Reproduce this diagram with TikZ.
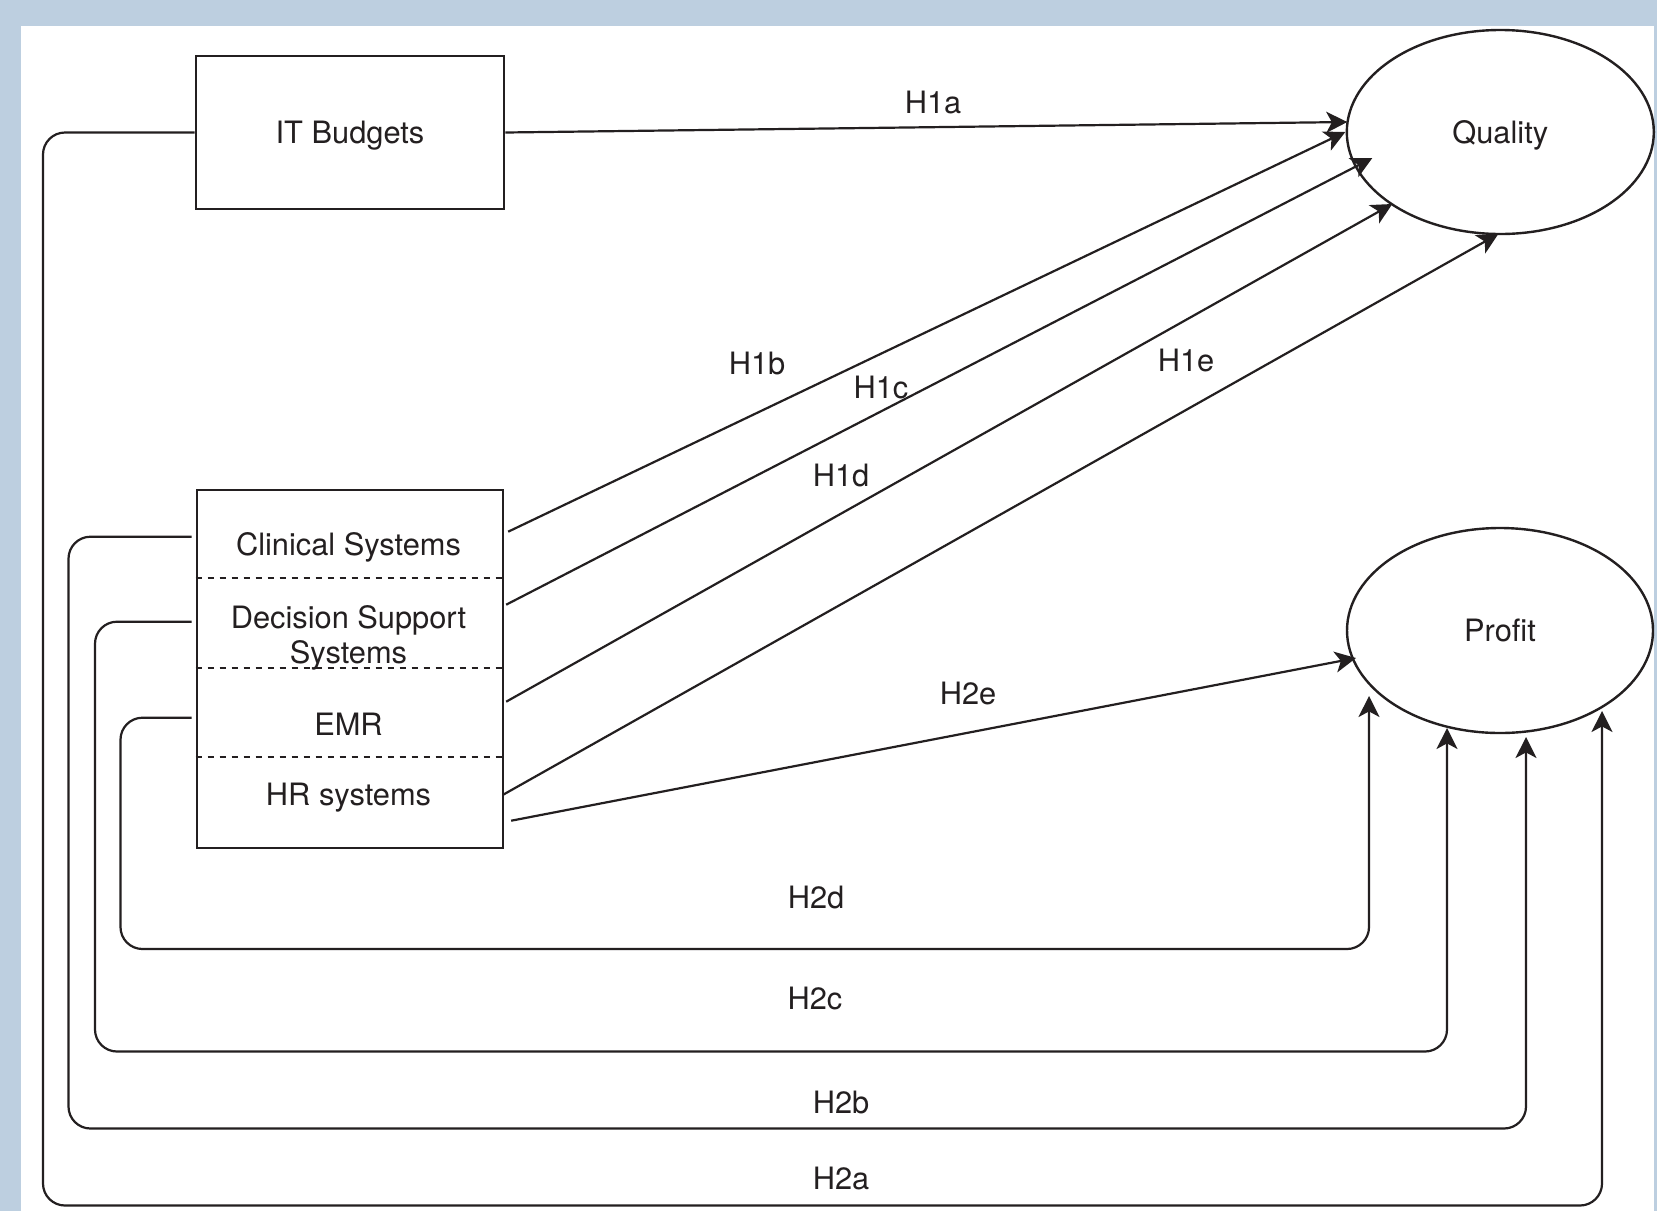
\documentclass[tikz,border=0pt]{standalone}
\usepackage{fontspec}
\setmainfont{TeX Gyre Heros}
\usetikzlibrary{arrows.meta,calc,shapes.geometric}
\definecolor{ink}{RGB}{35,31,32}
\definecolor{framecol}{RGB}{189,207,224}
\begin{document}
\begin{tikzpicture}[x=0.5pt,y=-0.5pt,
  wire/.style={draw=ink,line width=1.1pt},
  conn/.style={wire,-{Stealth[length=10.5pt,width=10.5pt,inset=2.8pt]}},
  wrapconn/.style={conn,rounded corners=11pt},
  lbl/.style={font=\fontsize{15.4}{17.5}\selectfont,text=ink,text height=11.05pt,text depth=0pt,inner sep=0pt},
  boxstyle/.style={draw=ink,line width=1.3pt,inner sep=0pt},
  oval/.style={ellipse,draw=ink,line width=1.2pt,inner sep=0pt},
  dashrow/.style={draw=ink,line width=1pt,dash pattern=on 3.4pt off 2.6pt}]
\fill[framecol] (0,0) rectangle (1657,1211);
\fill[white] (21,26) rectangle (1654,1211);
\useasboundingbox (0,0) rectangle (1657,1211);

% nodes
\node[boxstyle,lbl,minimum width=154pt,minimum height=76.5pt] (it) at (350,132.5) {IT Budgets};
\node[boxstyle,minimum width=153pt,minimum height=179pt] (sys) at (349.85,669) {};
\node[oval,lbl,minimum width=153.5pt,minimum height=102pt] (q) at (1500.3,132) {Quality};
\node[oval,lbl,minimum width=153pt,minimum height=102.5pt] (p) at (1500,630.5) {Profit};

\draw[dashrow] ($(sys.north west)+(0,89)$) -- ($(sys.north east)+(0,89)$);
\draw[dashrow] ($(sys.north west)+(0,179)$) -- ($(sys.north east)+(0,179)$);
\draw[dashrow] ($(sys.north west)+(0,268)$) -- ($(sys.north east)+(0,268)$);

\node[lbl] (cs) at (348.5,544) {Clinical Systems};
\node[font=\fontsize{15.4}{17.5}\selectfont,text=ink,inner sep=0pt,align=center] (dss) at (348.5,637.5) {Decision Support\\Systems};
\node[lbl] (emr) at (348.5,724) {EMR};
\node[lbl] (hr) at (348.5,794.5) {HR systems};

% H1 arrows
\draw[conn] (it.east) -- ($(q.center)+(-153,-10)$);
\draw[conn] ($(sys.north east)+(4,43)$) -- ($(q.center)+(-155,0)$);
\draw[conn] ($(sys.north east)+(2,116)$) -- ($(q.center)+(-128,26)$);
\draw[conn] ($(sys.north east)+(2,213)$) -- ($(q.center)+(-108,72)$);
\draw[conn] ($(sys.north east)+(-1,306)$) -- ($(q.center)+(-2,102)$);
\draw[conn] ($(sys.north east)+(7,332)$) -- ($(p.center)+(-144,27.5)$);

% H2 wrap-around arrows
\draw[wrapconn] (it.west) -| (43,1205.5) -| ($(p.center)+(102,80.5)$);
\draw[wrapconn] ($(sys.north west)+(-4,48)$) -| (68.5,1128.5) -| ($(p.center)+(26,106.5)$);
\draw[wrapconn] ($(sys.north west)+(-4,133)$) -| (95,1051.5) -| ($(p.center)+(-53,97.5)$);
\draw[wrapconn] ($(sys.north west)+(-4,229)$) -| (120.5,949) -| ($(p.center)+(-131,65.5)$);

% labels
\node[lbl] (h1a) at (933,102.5) {H1a};
\node[lbl] (h1b) at (757,363.5) {H1b};
\node[lbl] (h1c) at (881,387) {H1c};
\node[lbl] (h1d) at (841,475.5) {H1d};
\node[lbl] (h1e) at (1186,360) {H1e};
\node[lbl] (h2e) at (968,693) {H2e};
\node[lbl] (h2d) at (816,897) {H2d};
\node[lbl] (h2c) at (815,998.6) {H2c};
\node[lbl] (h2b) at (841,1102) {H2b};
\node[lbl] (h2a) at (841,1178) {H2a};
\end{tikzpicture}
\end{document}
